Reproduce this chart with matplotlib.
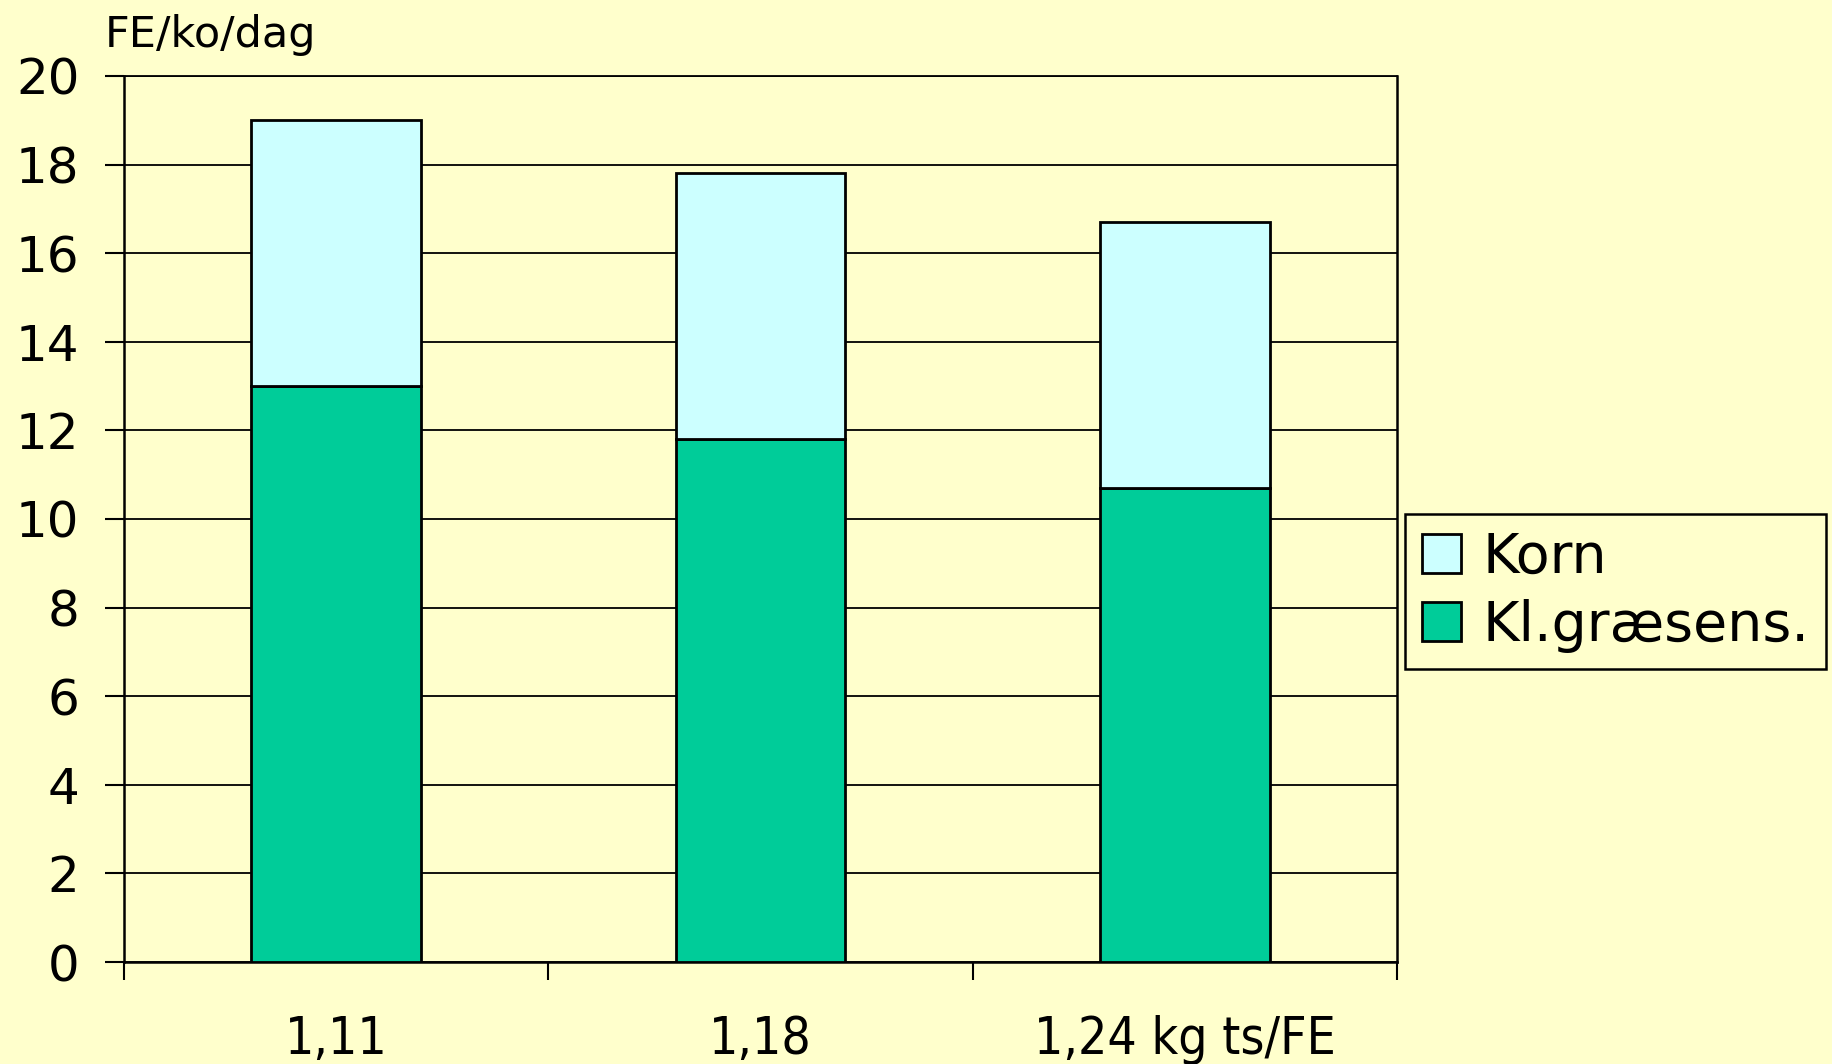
import matplotlib.pyplot as plt
import numpy as np

# FE pr. ko pr. dag, stablet: kløvergræsensilage nederst, korn ovenpå
kategorier = ['1,11', '1,18', '1,24 kg ts/FE']
graesens = [13.0, 11.8, 10.7]
korn = [6.0, 6.0, 6.0]

bg = '#FFFFCC'
plt.rcParams['font.family'] = ['DejaVu Sans']

fig = plt.figure(figsize=(18.33, 10.64), dpi=100, facecolor=bg)
ax = fig.add_axes([124 / 1833, 1 - 962 / 1064, (1397 - 124) / 1833, (962 - 76) / 1064])
ax.set_facecolor(bg)

x = np.arange(len(kategorier))
b1 = ax.bar(x, graesens, width=0.4, color='#00CC99', edgecolor='black', linewidth=2, zorder=3,
            label='Kl.græsens.')
b2 = ax.bar(x, korn, bottom=graesens, width=0.4, color='#CCFFFF', edgecolor='black', linewidth=2,
            zorder=3, label='Korn')

ax.set_xlim(-0.5, 2.5)
ax.set_ylim(0, 20)
ax.set_yticks(range(0, 21, 2))
ax.yaxis.grid(True, color='black', linewidth=1.3, zorder=0)
ax.tick_params(axis='y', direction='out', length=14, width=1.5, pad=18, labelsize=36)

# skillestreger mellem grupperne, etiketter midt i hver gruppe
ax.set_xticks([-0.5, 0.5, 1.5, 2.5])
ax.set_xticklabels([])
ax.tick_params(axis='x', which='major', direction='out', length=13, width=1.5)
ax.set_xticks(x, minor=True)
ax.set_xticklabels(kategorier, minor=True, fontsize=37, fontstretch='condensed')
ax.tick_params(axis='x', which='minor', length=0, pad=38)

for s in ['left', 'bottom', 'right']:
    ax.spines[s].set_linewidth(1.8)
ax.spines['top'].set_linewidth(1.3)

fig.text(105 / 1833, 1 - 47 / 1064, 'FE/ko/dag', fontsize=31, ha='left', va='baseline')

leg = fig.legend(handles=[b2, b1], labels=['Korn', 'Kl.græsens.'], loc='upper left',
                 bbox_to_anchor=(1405 / 1833, 1 - 514 / 1064), fontsize=40, frameon=True,
                 fancybox=False, edgecolor='black', facecolor=bg, framealpha=1,
                 handlelength=0.7, handleheight=0.7, handletextpad=0.4, borderpad=0.3,
                 labelspacing=0.25, borderaxespad=0)
leg.get_frame().set_linewidth(1.8)

fig.savefig('out.png', dpi=100, facecolor=bg)
